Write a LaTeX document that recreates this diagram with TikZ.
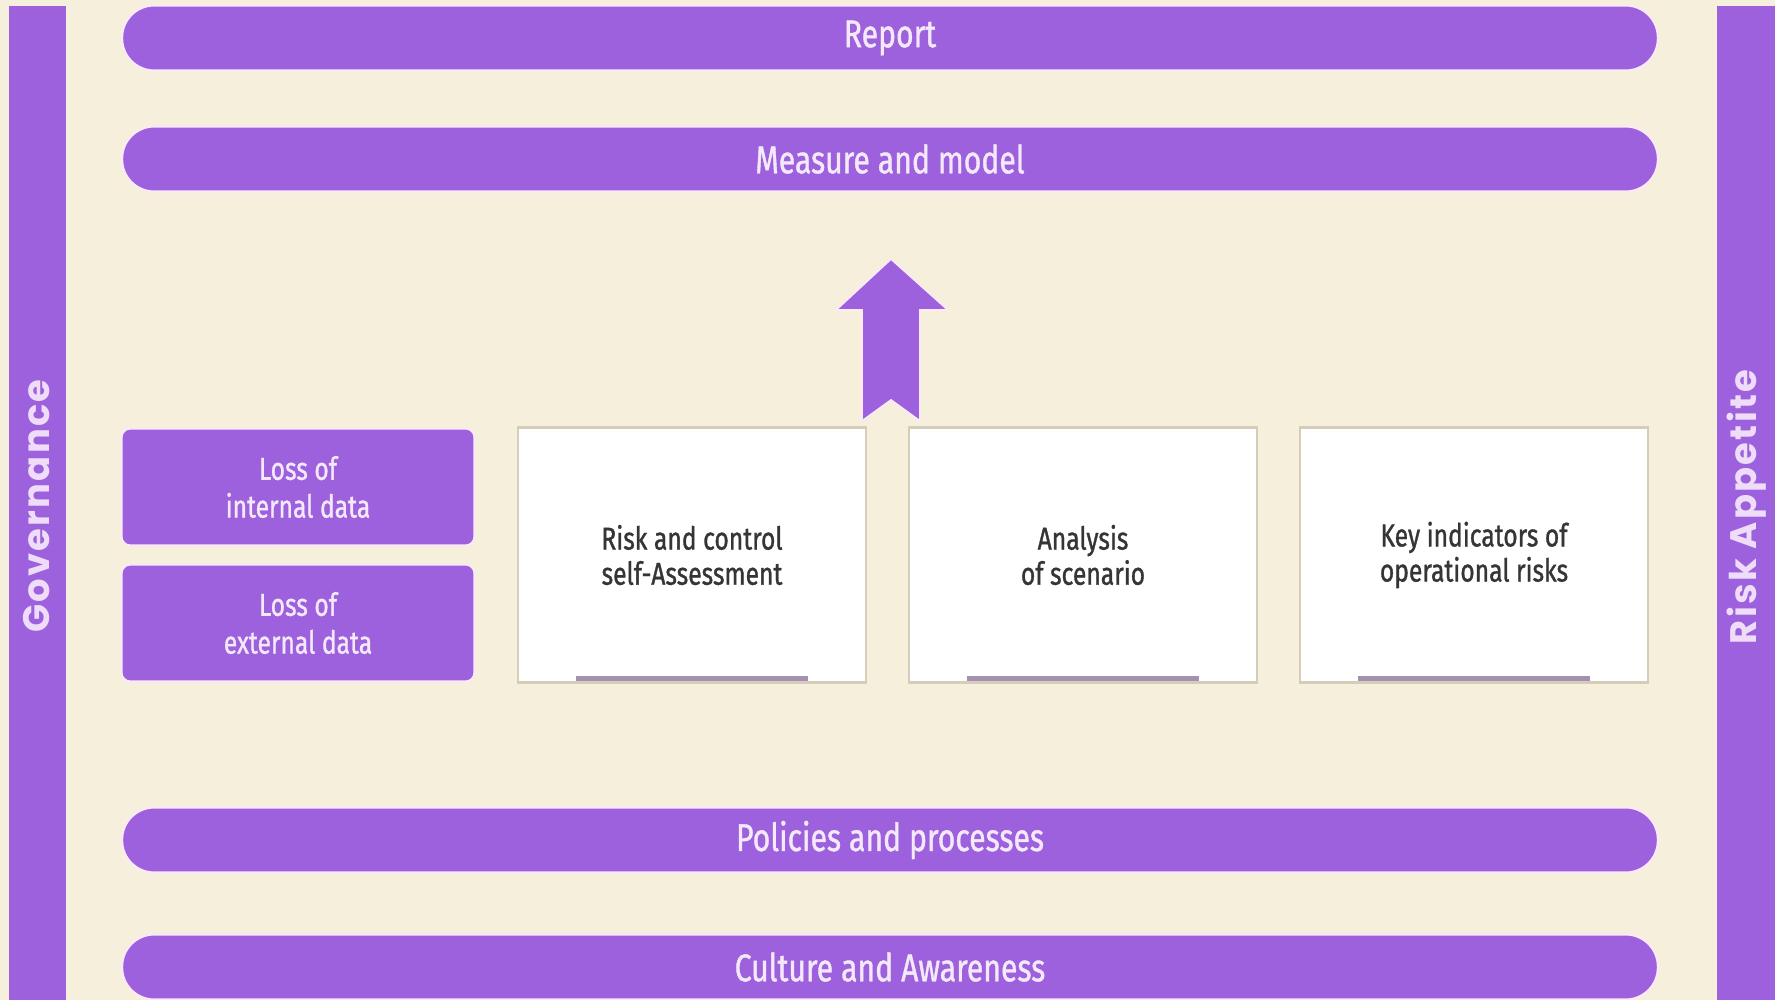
\documentclass[tikz,border=0pt]{standalone}
\usepackage{fontspec}
\setmainfont{Fira Sans}
\newfontfamily\barfont[FakeStretch=0.78, FakeBold=1]{Fira Sans}
\newfontfamily\sidefont[LetterSpace=6]{Poppins}
\usepackage{xcolor}
\usepackage{tikz}
\usetikzlibrary{positioning}

\definecolor{cream}{HTML}{F6EFDB}
\definecolor{riskpurple}{HTML}{9D61DD}
\definecolor{barglow}{HTML}{FBEAF6}
\definecolor{barwhite}{HTML}{F4E8FB}
\definecolor{sidetext}{HTML}{EEDCF8}
\definecolor{boxedge}{HTML}{D5CDB9}
\definecolor{boxtext}{HTML}{353535}
\definecolor{lineshade}{HTML}{A690B2}

\tikzset{
  bar/.style={fill=riskpurple, draw=barglow, line width=1.2pt, rounded corners=0.64cm,
    minimum width=30.72cm, minimum height=1.3cm, text=barwhite,
    font=\barfont\fontsize{22}{24}\selectfont},
  lossbox/.style={fill=riskpurple, draw=barglow, line width=1.2pt, rounded corners=5pt,
    minimum width=7.06cm, minimum height=2.34cm, text=barwhite, align=center,
    font=\barfont\fontsize{18}{21.5}\selectfont},
  toolbox/.style={fill=white, draw=boxedge, line width=1.5pt,
    minimum width=6.96cm, minimum height=5.1cm, text=boxtext, align=center,
    font=\barfont\fontsize{18}{20}\selectfont},
  sidelabel/.style={rotate=90, text=sidetext, font=\sidefont\bfseries\fontsize{21}{24}\selectfont},
  underbar/.style={draw=lineshade, line width=2.8pt},
}

\begin{document}
\begin{tikzpicture}[x=0.02cm, y=-0.02cm]

    \fill[cream] (0,0) rectangle (1775,1000);
    \useasboundingbox (0,0) rectangle (1775,1000);

    % side columns
    \fill[riskpurple] (9,6) rectangle (66,1000);
    \fill[riskpurple] (1717,6) rectangle (1775,1000);
    \node[sidelabel] (gov) at (37,506) {Governance};
    \node[sidelabel] (appetite) at (1747,507) {Risk Appetite};

    % horizontal layers
    \node[bar] (report) at (890,38) {Report};
    \node[bar] (measure) at (890,159) {Measure and model};
    \node[bar] (policies) at (890,840) {Policies and processes};
    \node[bar] (culture) at (890,967) {Culture and Awareness};

    % data sources
    \node[lossbox] (intloss) at (298,487) {Loss of\\internal data};
    \node[lossbox] (extloss) at (298,623) {Loss of\\external data};

    % tools
    \node[toolbox] (rcsa) at (692,555) {Risk and control\\self-Assessment};
    \node[toolbox] (scen) at (1083,555) {Analysis\\of scenario};
    \node[toolbox] (kri) at (1474,555) {Key indicators of\\operational risks};

    \foreach \b in {rcsa,scen,kri}
    \draw[underbar] ([xshift=-2.33cm,yshift=0.11cm]\b.south) -- ([xshift=2.33cm,yshift=0.11cm]\b.south);

    % upward arrow
    \fill[riskpurple, draw=barglow, line width=1pt] (891,259) -- (948,310) -- (920,310) -- (920,421)
        -- (891,400) -- (862,421) -- (862,310) -- (836,310) -- cycle;

\end{tikzpicture}
\end{document}
